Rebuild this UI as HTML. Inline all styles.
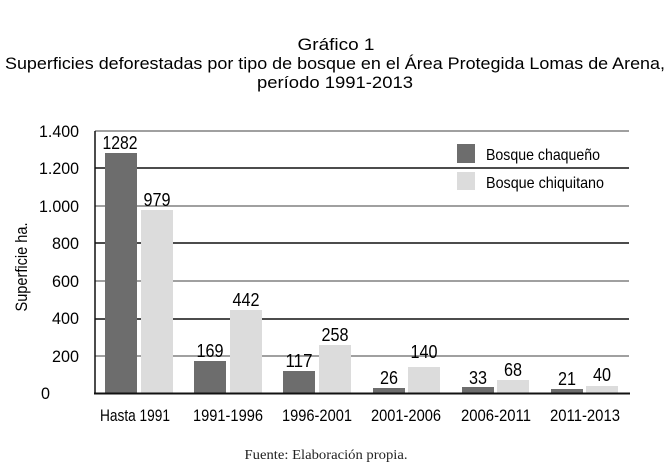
<!DOCTYPE html>
<html><head><meta charset="utf-8"><style>
html,body{margin:0;padding:0;background:#fff;}
svg{display:block}
</style></head><body>
<svg width="670" height="469" viewBox="0 0 670 469" xmlns="http://www.w3.org/2000/svg">
<g font-family="Liberation Sans, Arial, sans-serif" font-size="17" fill="#000" text-anchor="middle">
<text x="336" y="50" textLength="77" lengthAdjust="spacingAndGlyphs">Gráfico 1</text>
<text x="335" y="69" textLength="660" lengthAdjust="spacingAndGlyphs">Superficies deforestadas por tipo de bosque en el Área Protegida Lomas de Arena,</text>
<text x="335" y="88" textLength="156" lengthAdjust="spacingAndGlyphs">período  1991-2013</text>
</g>
<g stroke-width="1.5">
<line x1="95" y1="131" x2="629" y2="131" stroke="#808080"/>
<line x1="95" y1="168" x2="629" y2="168" stroke="#111"/>
<line x1="95" y1="206" x2="629" y2="206" stroke="#808080"/>
<line x1="95" y1="243" x2="629" y2="243" stroke="#111"/>
<line x1="95" y1="281" x2="629" y2="281" stroke="#808080"/>
<line x1="95" y1="319" x2="629" y2="319" stroke="#111"/>
<line x1="95" y1="356" x2="629" y2="356" stroke="#808080"/>
</g>
<line x1="95" y1="131" x2="95" y2="393" stroke="#111" stroke-width="1.5"/>
<g fill="#6d6d6d">
<rect x="105" y="153" width="32" height="240"/>
<rect x="194" y="361" width="32" height="32"/>
<rect x="283" y="371" width="32" height="22"/>
<rect x="373" y="388" width="32" height="5"/>
<rect x="462" y="387" width="32" height="6"/>
<rect x="551" y="389" width="32" height="4"/>
</g>
<g fill="#dcdcdc">
<rect x="141" y="210" width="32" height="183"/>
<rect x="230" y="310" width="32" height="83"/>
<rect x="319" y="345" width="32" height="48"/>
<rect x="408" y="367" width="32" height="26"/>
<rect x="497" y="380" width="32" height="13"/>
<rect x="586" y="386" width="32" height="7"/>
</g>
<line x1="94" y1="393.5" x2="630" y2="393.5" stroke="#111" stroke-width="2"/>
<g font-family="Liberation Sans, sans-serif" font-size="18" fill="#000" text-anchor="middle">
<text x="120" y="149" textLength="35" lengthAdjust="spacingAndGlyphs">1282</text>
<text x="157" y="206" textLength="27" lengthAdjust="spacingAndGlyphs">979</text>
<text x="210" y="357" textLength="27" lengthAdjust="spacingAndGlyphs">169</text>
<text x="246" y="306" textLength="27" lengthAdjust="spacingAndGlyphs">442</text>
<text x="299" y="367" textLength="27" lengthAdjust="spacingAndGlyphs">117</text>
<text x="335" y="341" textLength="27" lengthAdjust="spacingAndGlyphs">258</text>
<text x="389" y="384" textLength="18" lengthAdjust="spacingAndGlyphs">26</text>
<text x="424" y="358" textLength="27" lengthAdjust="spacingAndGlyphs">140</text>
<text x="478" y="384" textLength="18" lengthAdjust="spacingAndGlyphs">33</text>
<text x="513" y="376" textLength="18" lengthAdjust="spacingAndGlyphs">68</text>
<text x="567" y="385" textLength="18" lengthAdjust="spacingAndGlyphs">21</text>
<text x="602" y="381" textLength="18" lengthAdjust="spacingAndGlyphs">40</text>
</g>
<g font-family="Liberation Sans, sans-serif" font-size="17" fill="#000" text-anchor="end">
<text x="79" y="137" textLength="40" lengthAdjust="spacingAndGlyphs">1.400</text>
<text x="79" y="174" textLength="40" lengthAdjust="spacingAndGlyphs">1.200</text>
<text x="79" y="212" textLength="40" lengthAdjust="spacingAndGlyphs">1.000</text>
<text x="79" y="249" textLength="27" lengthAdjust="spacingAndGlyphs">800</text>
<text x="79" y="287" textLength="27" lengthAdjust="spacingAndGlyphs">600</text>
<text x="79" y="324" textLength="27" lengthAdjust="spacingAndGlyphs">400</text>
<text x="79" y="362" textLength="27" lengthAdjust="spacingAndGlyphs">200</text>
<text x="50" y="399" textLength="9" lengthAdjust="spacingAndGlyphs">0</text>
</g>
<text transform="translate(27,267) rotate(-90)" font-family="Liberation Sans, sans-serif" font-size="17" text-anchor="middle" textLength="89" lengthAdjust="spacingAndGlyphs">Superficie ha.</text>
<g font-family="Liberation Sans, sans-serif" font-size="17" fill="#000" text-anchor="middle">
<text x="135" y="421" textLength="70" lengthAdjust="spacingAndGlyphs">Hasta 1991</text>
<text x="228" y="421" textLength="70" lengthAdjust="spacingAndGlyphs">1991-1996</text>
<text x="317" y="421" textLength="70" lengthAdjust="spacingAndGlyphs">1996-2001</text>
<text x="406" y="421" textLength="70" lengthAdjust="spacingAndGlyphs">2001-2006</text>
<text x="496" y="421" textLength="70" lengthAdjust="spacingAndGlyphs">2006-2011</text>
<text x="585" y="421" textLength="70" lengthAdjust="spacingAndGlyphs">2011-2013</text>
</g>
<rect x="457" y="144" width="18" height="19" fill="#6d6d6d"/>
<rect x="457" y="172" width="18" height="18" fill="#dcdcdc"/>
<g font-family="Liberation Sans, sans-serif" font-size="16" fill="#000">
<text x="486" y="160" textLength="114" lengthAdjust="spacingAndGlyphs">Bosque chaqueño</text>
<text x="486" y="188" textLength="118" lengthAdjust="spacingAndGlyphs">Bosque chiquitano</text>
</g>
<text x="326" y="459" font-family="Liberation Serif, serif" font-size="14" text-anchor="middle" fill="#222" textLength="163" lengthAdjust="spacingAndGlyphs">Fuente: Elaboración propia.</text>
</svg>
</body></html>
